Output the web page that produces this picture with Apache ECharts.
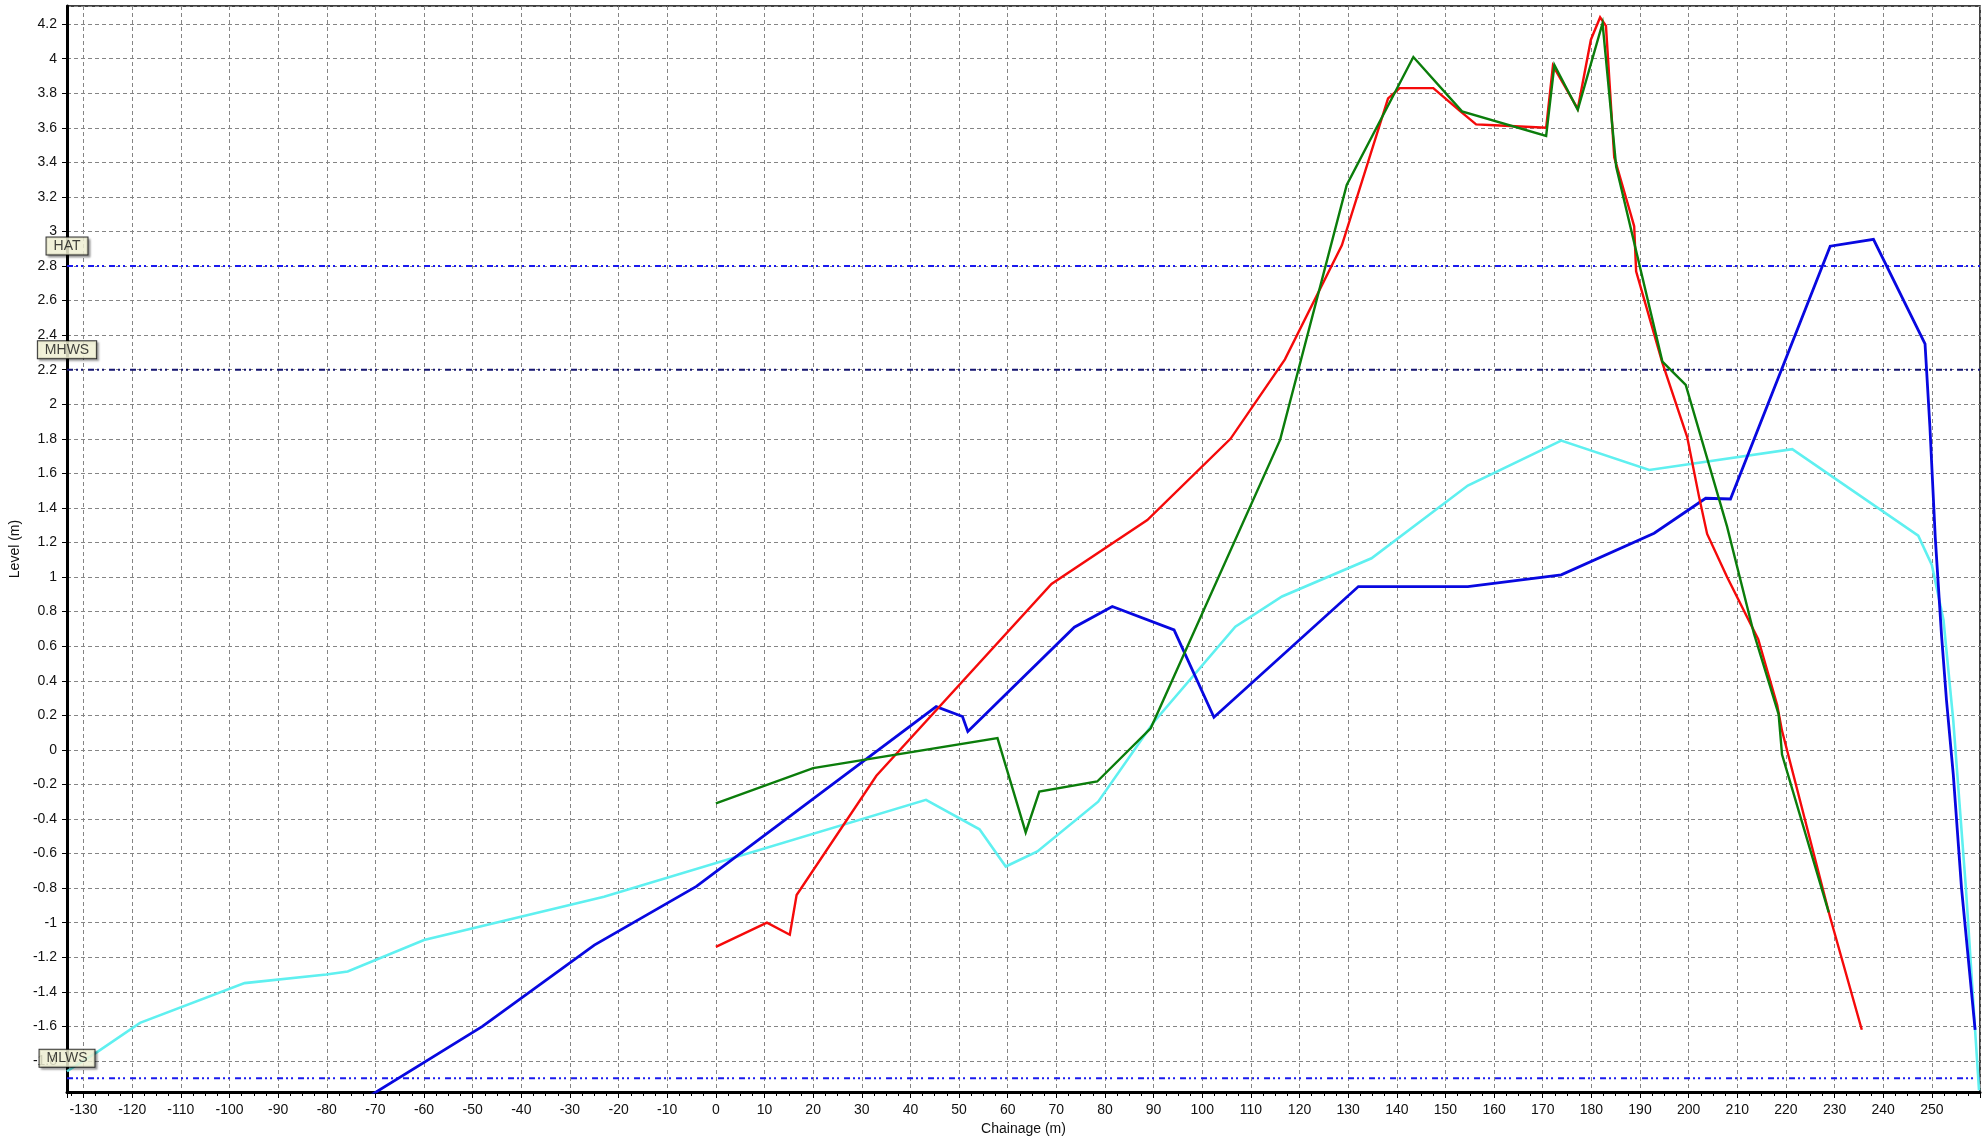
<!DOCTYPE html>
<html>
<head>
<meta charset="utf-8">
<script src="https://cdn.jsdelivr.net/npm/echarts@6/dist/echarts.min.js"></script>
<style>
  html, body { margin: 0; padding: 0; background: #ffffff; }
  #chart { width: 1982px; height: 1143px; }
</style>
</head>
<body>
<div id="chart"></div>
<script>
// Beach profile surveys: chainage (m) against level (m)
const redChainage = [0, 10.5, 15.2, 16.6, 33, 69, 88.7, 105.8, 117, 128.7, 138.2, 140.6, 147.5, 152.9, 156.3, 160.1, 170.7, 172.1, 177.2, 179.9, 181.8, 183, 184.7, 188.1, 188.8, 189.2, 194.6, 199.7, 202.1, 203.8, 207.9, 214.3, 218.2, 219.2, 229.1, 235.6];
const redLevel = [-1.14, -1.0, -1.07, -0.84, -0.15, 0.96, 1.33, 1.80, 2.26, 2.92, 3.77, 3.83, 3.83, 3.70, 3.62, 3.615, 3.60, 3.96, 3.71, 4.11, 4.24, 4.19, 3.43, 3.10, 3.03, 2.77, 2.24, 1.81, 1.47, 1.25, 1.0, 0.64, 0.26, 0.11, -0.97, -1.62];

const greenChainage = [0, 20, 57.9, 63.7, 66.5, 78.4, 89.4, 116, 129.7, 143.4, 153.4, 170.7, 172.4, 177.2, 182.3, 185.1, 194.6, 199.4, 207.9, 213.4, 218.5, 219.2, 228.8];
const greenLevel = [-0.31, -0.106, 0.068, -0.478, -0.241, -0.183, 0.125, 1.794, 3.27, 4.01, 3.695, 3.553, 3.964, 3.704, 4.205, 3.375, 2.247, 2.112, 1.292, 0.675, 0.206, -0.027, -0.94];

const blueChainage = [-71, -48, -25, -4, 45.3, 50.7, 51.8, 73.7, 81.5, 94.2, 102.4, 132.1, 154.6, 173.8, 192.9, 203.5, 208.6, 229.1, 238, 248.6, 249.6, 250.7, 252, 253, 254.4, 256.1, 258.9];
const blueLevel = [-2.0, -1.6, -1.13, -0.79, 0.25, 0.193, 0.106, 0.71, 0.83, 0.694, 0.189, 0.945, 0.945, 1.013, 1.254, 1.456, 1.452, 2.915, 2.955, 2.35, 1.87, 1.23, 0.66, 0.29, -0.14, -0.8, -1.62];

const cyanChainage = [-133.4, -127, -118.4, -96.9, -80.1, -75.7, -60, -23, 43.2, 54.2, 59.6, 66.1, 78.6, 90, 106.8, 116.4, 134.8, 154.6, 173.8, 191.9, 221.3, 247.2, 250, 252.4, 254.4, 257, 259.7];
const cyanLevel = [-1.86, -1.745, -1.58, -1.35, -1.30, -1.283, -1.10, -0.85, -0.289, -0.46, -0.675, -0.588, -0.30, 0.16, 0.713, 0.888, 1.109, 1.53, 1.79, 1.62, 1.74, 1.24, 1.07, 0.75, 0.17, -0.8, -1.97];

// Tidal reference levels
const tideNames = ['HAT', 'MHWS', 'MLWS'];
const tideLevels = [2.8, 2.2, -1.9];

// Axis extents
const xMin = -133.4, xMax = 259.9;
const yMin = -1.98, yMax = 4.305;

const FONT = '"Liberation Sans", Arial, sans-serif';

function pairs(xs, ys) { return xs.map((x, i) => [x, ys[i]]); }

const profileStyles = [
  { name: 'cyan', color: '#5ff0f0', width: 2.6, x: cyanChainage, y: cyanLevel, z: 3 },
  { name: 'blue', color: '#0808e0', width: 2.8, x: blueChainage, y: blueLevel, z: 4 },
  { name: 'red', color: '#f50a0a', width: 2.4, x: redChainage, y: redLevel, z: 5 },
  { name: 'green', color: '#0b7d0b', width: 2.4, x: greenChainage, y: greenLevel, z: 6 }
];
const tideColors = ['#1a1aee', '#141470', '#1a1aee'];

const series = [];

tideLevels.forEach((lvl, i) => {
  series.push({
    type: 'line',
    name: tideNames[i],
    data: [[xMin, lvl], [xMax, lvl]],
    showSymbol: false,
    silent: true,
    z: 2,
    lineStyle: { color: tideColors[i], width: 2, type: [6, 3, 2, 3, 2, 5] }
  });
});

profileStyles.forEach(p => {
  series.push({
    type: 'line',
    name: p.name,
    data: pairs(p.x, p.y),
    showSymbol: false,
    clip: true,
    silent: true,
    z: p.z,
    lineStyle: { color: p.color, width: p.width, join: 'miter' }
  });
});

// Tags naming the tidal levels at the left edge of the plot
series.push({
  type: 'scatter',
  data: tideLevels.map((lvl, i) => ({ name: tideNames[i], value: [xMin, lvl] })),
  symbol: 'rect',
  symbolSize: 1,
  itemStyle: { color: 'rgba(0,0,0,0)' },
  clip: false,
  silent: true,
  z: 20,
  label: {
    show: true,
    formatter: '{b}',
    position: 'inside',
    offset: [0, -20],
    fontFamily: FONT,
    fontSize: 14,
    color: '#111',
    backgroundColor: '#ffffe1',
    borderColor: '#000',
    borderWidth: 1,
    padding: [2, 7, 1, 7],
    shadowColor: 'rgba(0,0,0,0.35)',
    shadowBlur: 2,
    shadowOffsetX: 2,
    shadowOffsetY: 2
  }
});

const axisText = { fontFamily: FONT, fontSize: 14, color: '#111' };

const option = {
  animation: false,
  backgroundColor: '#ffffff',
  grid: {
    left: 62, right: 2, top: 6, bottom: 51,
    show: true, borderColor: '#000', borderWidth: 1.5, backgroundColor: '#ffffff'
  },
  xAxis: {
    type: 'value',
    min: xMin, max: xMax,
    splitNumber: 39, minInterval: 10, maxInterval: 10,
    name: 'Chainage (m)',
    nameLocation: 'middle',
    nameGap: 30,
    nameTextStyle: { fontFamily: FONT, fontSize: 14, color: '#111' },
    axisLine: { show: true, onZero: false, lineStyle: { color: '#000', width: 3 } },
    axisTick: { show: true, inside: false, length: 6, lineStyle: { color: '#000', width: 1 } },
    minorTick: { show: true, splitNumber: 4, length: 4, lineStyle: { color: '#000', width: 1 } },
    axisLabel: Object.assign({ margin: 11, interval: 0, showMinLabel: false, showMaxLabel: false }, axisText),
    splitLine: { show: true, lineStyle: { color: '#858585', width: 1, type: [4, 3] } },
    minorSplitLine: { show: false }
  },
  yAxis: {
    type: 'value',
    min: yMin, max: yMax,
    splitNumber: 31, minInterval: 0.2, maxInterval: 0.2,
    name: 'Level (m)',
    nameLocation: 'middle',
    nameGap: 38,
    nameRotate: 90,
    nameTextStyle: { fontFamily: FONT, fontSize: 14, color: '#111' },
    axisLine: { show: true, onZero: false, lineStyle: { color: '#000', width: 3 } },
    axisTick: { show: true, inside: false, length: 5, lineStyle: { color: '#000', width: 1 } },
    axisLabel: Object.assign({ margin: 10, interval: 0, showMinLabel: false, showMaxLabel: false }, axisText),
    splitLine: { show: true, lineStyle: { color: '#858585', width: 1, type: [4, 3] } }
  },
  series: series
};

const chart = echarts.init(document.getElementById('chart'), null, { renderer: 'canvas' });
chart.setOption(option);
</script>
</body>
</html>
